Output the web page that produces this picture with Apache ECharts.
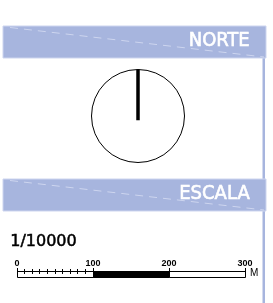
<!DOCTYPE html>
<html>
<head>
<meta charset="utf-8">
<script src="https://cdn.jsdelivr.net/npm/echarts@6/dist/echarts.min.js"></script>
<style>
html,body{margin:0;padding:0;background:#fff;}
#c{width:273px;height:303px;}
</style>
</head>
<body>
<div id="c"></div>
<script>
// ---- data ----
var headerTitles = ['NORTE', 'ESCALA'];
var scaleText = '1/10000';
var scaleUnit = 'M';
var tickLabels = [0, 100, 200, 300];
var segStarts = [0, 100, 200];
var segEnds = [100, 200, 300];
var segFilled = [0, 1, 0];
var minorTicks = [10, 20, 30, 40, 50, 60, 70, 80, 90];
var needle = [[0.09, 180], [1.12, 0]]; // [radius, angle] in polar units

var chart = echarts.init(document.getElementById('c'), null, {renderer: 'canvas'});

var HDR = '#a7b5de';
var HDR_LIGHT = '#cdd5ef';
var titleFont = '"DejaVu Sans Condensed", "Liberation Sans Narrow", "DejaVu Sans", sans-serif';

function header(y, title) {
  return [
    {type: 'rect', shape: {x: 3, y: y, width: 263, height: 32}, style: {fill: HDR, stroke: HDR_LIGHT, lineWidth: 1}, z: 1},
    {type: 'line', shape: {x1: 10, y1: y + 1.5, x2: 264, y2: y + 31}, style: {stroke: HDR_LIGHT, lineWidth: 1, lineDash: [8, 6]}, z: 2},
    {type: 'text', right: 273 - 250, top: y + 4, style: {text: title, fill: '#fff', stroke: '#fff', lineWidth: 0.6, font: 'normal 20px ' + titleFont}, z: 3}
  ];
}

var segData = segStarts.map(function (s, i) { return [s, segEnds[i], segFilled[i]]; });

function r5(v) { return Math.round(v - 0.5) + 0.5; }

chart.setOption({
  animation: false,
  backgroundColor: '#fff',
  polar: {center: [138, 116], radius: 46.5},
  angleAxis: {
    type: 'value', min: 0, max: 360, startAngle: 90,
    axisLine: {show: true, lineStyle: {color: '#000', width: 1}},
    axisTick: {show: false}, axisLabel: {show: false}, splitLine: {show: false}
  },
  radiusAxis: {type: 'value', min: 0, max: 1, show: false, splitLine: {show: false}},
  grid: {left: 17, width: 228, top: 271, height: 6},
  xAxis: {
    type: 'value', min: 0, max: 300, interval: 100, position: 'top',
    axisLine: {show: false}, axisTick: {show: false}, splitLine: {show: false},
    axisLabel: {
      show: true, margin: 3, color: '#000', fontSize: 9, fontWeight: 'bold',
      fontFamily: '"Liberation Sans", Arial, sans-serif',
      formatter: function (v) { return tickLabels.indexOf(v) >= 0 ? String(v) : ''; }
    }
  },
  yAxis: {type: 'value', min: 0, max: 1, show: false},
  graphic: [].concat(
    [{type: 'rect', shape: {x: 262.5, y: 58, width: 2.5, height: 250}, style: {fill: HDR}, z: 0}],
    header(26, headerTitles[0]),
    header(179, headerTitles[1]),
    [
      {type: 'text', left: 10, top: 234, style: {text: scaleText, fill: '#000', stroke: '#000', lineWidth: 0.5, font: 'normal 16px "DejaVu Sans", sans-serif'}},
      {type: 'text', left: 250, top: 268, style: {text: scaleUnit, fill: '#000', font: 'normal 10px "Liberation Sans", Arial, sans-serif'}}
    ]
  ),
  series: [
    {
      type: 'line', coordinateSystem: 'polar', data: needle, symbol: 'none', clip: false,
      lineStyle: {color: '#000', width: 3.5}, silent: true
    },
    {
      type: 'custom', coordinateSystem: 'cartesian2d', data: segData, silent: true, clip: false,
      renderItem: function (params, api) {
        var a = api.coord([api.value(0), 1]);
        var b = api.coord([api.value(1), 0]);
        return {
          type: 'rect',
          shape: {x: r5(a[0]), y: r5(a[1]), width: Math.round(b[0] - a[0]), height: Math.round(b[1] - a[1])},
          style: {fill: api.value(2) ? '#000' : '#fff', stroke: '#000', lineWidth: 1}
        };
      }
    },
    {
      type: 'custom', coordinateSystem: 'cartesian2d', data: minorTicks.map(function (v) { return [v]; }), silent: true, clip: false,
      renderItem: function (params, api) {
        var p = api.coord([api.value(0), 1]);
        var q = api.coord([api.value(0), 0.5]);
        return {type: 'line', shape: {x1: r5(p[0]), y1: p[1] - 2, x2: r5(p[0]), y2: q[1]}, style: {stroke: '#000', lineWidth: 1}};
      }
    },
    {
      type: 'custom', coordinateSystem: 'cartesian2d', data: tickLabels.map(function (v) { return [v]; }), silent: true, clip: false,
      renderItem: function (params, api) {
        var p = api.coord([api.value(0), 1]);
        var q = api.coord([api.value(0), 0]);
        return {type: 'line', shape: {x1: r5(p[0]), y1: p[1] - 3, x2: r5(p[0]), y2: q[1]}, style: {stroke: '#000', lineWidth: 1}};
      }
    }
  ]
});
</script>
</body>
</html>
